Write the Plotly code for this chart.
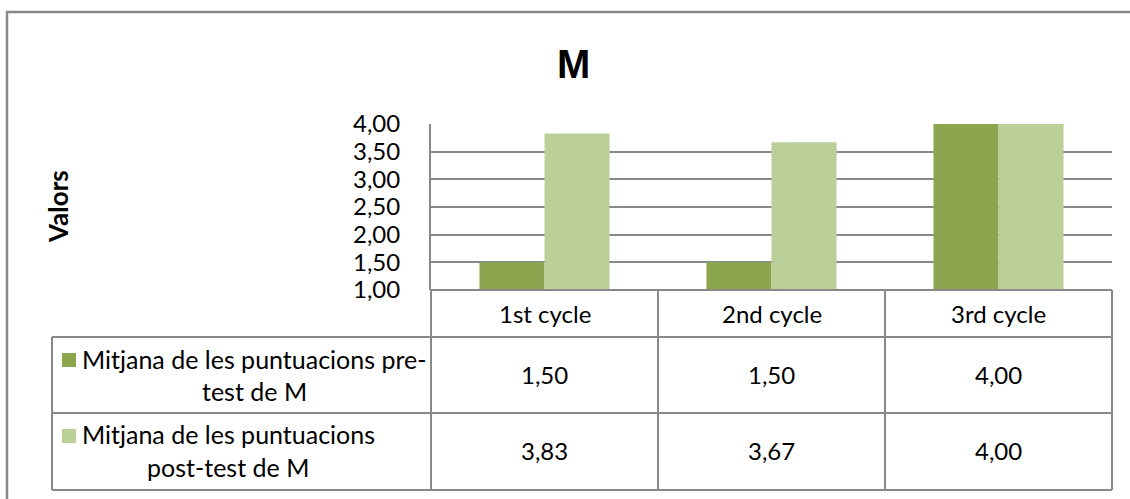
import plotly.graph_objects as go

# ---- data ----
categories = ["1st cycle", "2nd cycle", "3rd cycle"]
pre_test = [1.50, 1.50, 4.00]
post_test = [3.83, 3.67, 4.00]
series_labels = [
    ["Mitjana de les puntuacions pre-", "test de M"],
    ["Mitjana de les puntuacions", "post-test de M"],
]
y_ticks = [1.00, 1.50, 2.00, 2.50, 3.00, 3.50, 4.00]
chart_title = "M"
y_title = "Valors"

# ---- styling ----
W, H = 1130, 499
DARK = "#8ba64f"
LIGHT = "#bbcf98"
GRID = "#888888"
FONT = "Lato"


def px(x):
    return x / W


def py(y):
    return 1 - y / H


def fmt(v):
    return f"{v:.2f}".replace(".", ",")


fig = go.Figure()
fig.add_bar(x=categories, y=pre_test, marker_color=DARK, marker_line_width=0,
            name=" ".join(series_labels[0]), showlegend=False)
fig.add_bar(x=categories, y=post_test, marker_color=LIGHT, marker_line_width=0,
            name=" ".join(series_labels[1]), showlegend=False)

X0, X1 = 431, 1112
Y_TOP, Y_AX = 124, 290
ROW1, ROW2, ROW3 = 337, 413, 490
LEFT = 52

fig.update_layout(
    width=W, height=H,
    margin=dict(l=0, r=0, t=0, b=0, pad=0, autoexpand=False),
    paper_bgcolor="white", plot_bgcolor="white",
    separators=",.",
    barmode="group", bargap=0.427, bargroupgap=0,
    font=dict(family=FONT, color="black"),
    xaxis=dict(domain=[px(X0), px(X1)], showticklabels=False, showline=False,
               showgrid=False, zeroline=False, ticks=""),
    yaxis=dict(domain=[py(Y_AX), py(Y_TOP)], range=[1, 4], tickvals=y_ticks,
               tickformat=".2f", showgrid=True, gridcolor=GRID, gridwidth=2,
               showline=True, linecolor=GRID, linewidth=2, zeroline=False,
               ticks="", ticklabelstandoff=24,
               tickfont=dict(family=FONT, size=24, color="black")),
)

shapes = []
line = dict(color=GRID, width=2)
# outer chart frame: only the top and left edges are inside the picture
shapes.append(dict(type="path", xref="paper", yref="paper",
                   path=f"M {px(7)} {py(499)} L {px(7)} {py(12)} L 1 {py(12)}",
                   line=dict(color=GRID, width=2.5)))
# data table grid
for yy, xs in [(Y_AX, X0), (ROW1, LEFT), (ROW2, LEFT), (ROW3, LEFT)]:
    shapes.append(dict(type="line", xref="paper", yref="paper",
                       x0=px(xs), x1=px(X1), y0=py(yy), y1=py(yy), line=line))
col_edges = [X0 + (X1 - X0) * i / len(categories) for i in range(len(categories) + 1)]
for xx in col_edges:
    shapes.append(dict(type="line", xref="paper", yref="paper",
                       x0=px(xx), x1=px(xx), y0=py(Y_AX), y1=py(ROW3), line=line))
shapes.append(dict(type="line", xref="paper", yref="paper",
                   x0=px(LEFT), x1=px(LEFT), y0=py(ROW1), y1=py(ROW3), line=line))
# legend keys
for (ytop, col) in [(353, DARK), (429, LIGHT)]:
    shapes.append(dict(type="rect", xref="paper", yref="paper",
                       x0=px(62), x1=px(76), y0=py(ytop), y1=py(ytop + 14),
                       fillcolor=col, line=dict(width=0)))
fig.update_layout(shapes=shapes)

ann = []
ann.append(dict(text=f"<b>{chart_title}</b>", x=px(573), y=py(64), xref="paper", yref="paper",
                showarrow=False, xanchor="center", yanchor="middle",
                font=dict(family="Liberation Sans", size=40, color="black")))
ann.append(dict(text=f"<b>{y_title}</b>", x=px(58), y=py(207), xref="paper", yref="paper",
                showarrow=False, textangle=-90, xanchor="center", yanchor="middle",
                font=dict(family=FONT, size=26, color="black")))
centers = [(col_edges[i] + col_edges[i + 1]) / 2 for i in range(len(categories))]
for c, cat in zip(centers, categories):
    ann.append(dict(text=cat, x=px(c), y=py(313), xref="paper", yref="paper",
                    showarrow=False, xanchor="center", yanchor="middle",
                    font=dict(family=FONT, size=24, color="black")))
for rowy, vals in [((ROW1 + ROW2) / 2, pre_test), ((ROW2 + ROW3) / 2, post_test)]:
    for c, v in zip(centers, vals):
        ann.append(dict(text=fmt(v), x=px(c), y=py(rowy - 1), xref="paper", yref="paper",
                        showarrow=False, xanchor="center", yanchor="middle",
                        font=dict(family=FONT, size=24, color="black")))
for lines, cx, ys in [(series_labels[0], 254, (359, 391)), (series_labels[1], 228, (434, 467))]:
    for t, yy in zip(lines, ys):
        ann.append(dict(text=t, x=px(cx), y=py(yy), xref="paper", yref="paper",
                        showarrow=False, xanchor="center", yanchor="middle",
                        font=dict(family=FONT, size=25, color="black")))
fig.update_layout(annotations=ann)

fig.write_html("out.html")
